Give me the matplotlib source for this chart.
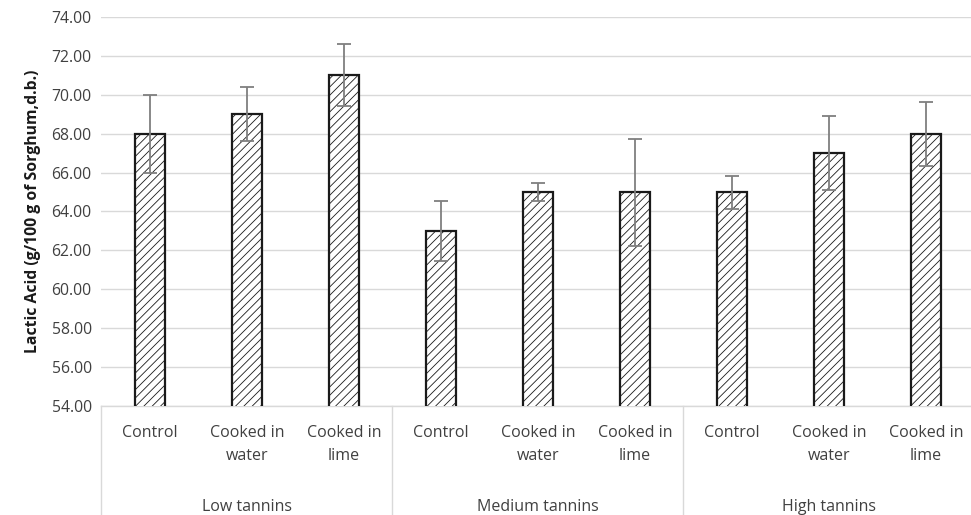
import matplotlib
matplotlib.use("Agg")
import matplotlib.pyplot as plt
from matplotlib.lines import Line2D
import numpy as np

plt.rcParams['font.family'] = ['Open Sans', 'DejaVu Sans']
plt.rcParams['hatch.linewidth'] = 0.6
plt.rcParams['hatch.color'] = '#222222'

groups = ["Low tannins", "Medium tannins", "High tannins"]
treatments = ["Control", "Cooked in\nwater", "Cooked in\nlime"]
values = [68.0, 69.0, 71.0, 63.0, 65.0, 65.0, 65.0, 67.0, 68.0]
errors = [2.0, 1.4, 1.6, 1.55, 0.45, 2.75, 0.85, 1.9, 1.65]

fig = plt.figure(figsize=(9.71, 5.15), dpi=100)
ax = fig.add_axes([0.1045, 0.2117, 0.899, 0.7553])

x = np.arange(len(values))
ax.bar(x, values, width=0.31, color='white', edgecolor='#1a1a1a',
       linewidth=1.6, hatch='////', zorder=3)
ax.errorbar(x, values, yerr=errors, fmt='none', ecolor='#7f7f7f',
            elinewidth=1.3, capsize=5, capthick=1.3, zorder=4)

ax.set_ylim(54, 74)
ax.set_xlim(-0.5, len(values) - 0.5)
ticks = np.arange(54, 74.1, 2)
ax.set_yticks(ticks)
ax.set_yticklabels(["%.2f" % v for v in ticks], fontsize=11.3, color='#404040')
ax.yaxis.grid(True, color='#d9d9d9', linewidth=1, zorder=0)
ax.set_axisbelow(True)
ax.tick_params(axis='y', length=0, pad=7)
ax.set_xticks([])
for s in ['top', 'right', 'left']:
    ax.spines[s].set_visible(False)
ax.spines['bottom'].set_color('#d9d9d9')
ax.spines['bottom'].set_linewidth(1)

ax.set_ylabel("Lactic Acid (g/100 g of Sorghum,d.b.)", fontsize=11.3,
              fontweight='bold', color='#1a1a1a', labelpad=8)

trans = ax.get_xaxis_transform()
for i in range(len(values)):
    ax.text(x[i], -0.048, treatments[i % 3], transform=trans, ha='center', va='top',
            fontsize=11.5, color='#404040', linespacing=1.6)
for g in range(len(groups)):
    ax.text(3 * g + 1, -0.26, groups[g], transform=trans, ha='center', va='center',
            fontsize=11.5, color='#404040')
for b in [-0.5, 2.5, 5.5]:
    ax.add_line(Line2D([b, b], [0, -0.3], transform=trans, color='#d9d9d9',
                       linewidth=1, clip_on=False))

fig.savefig("out.png", dpi=100)
